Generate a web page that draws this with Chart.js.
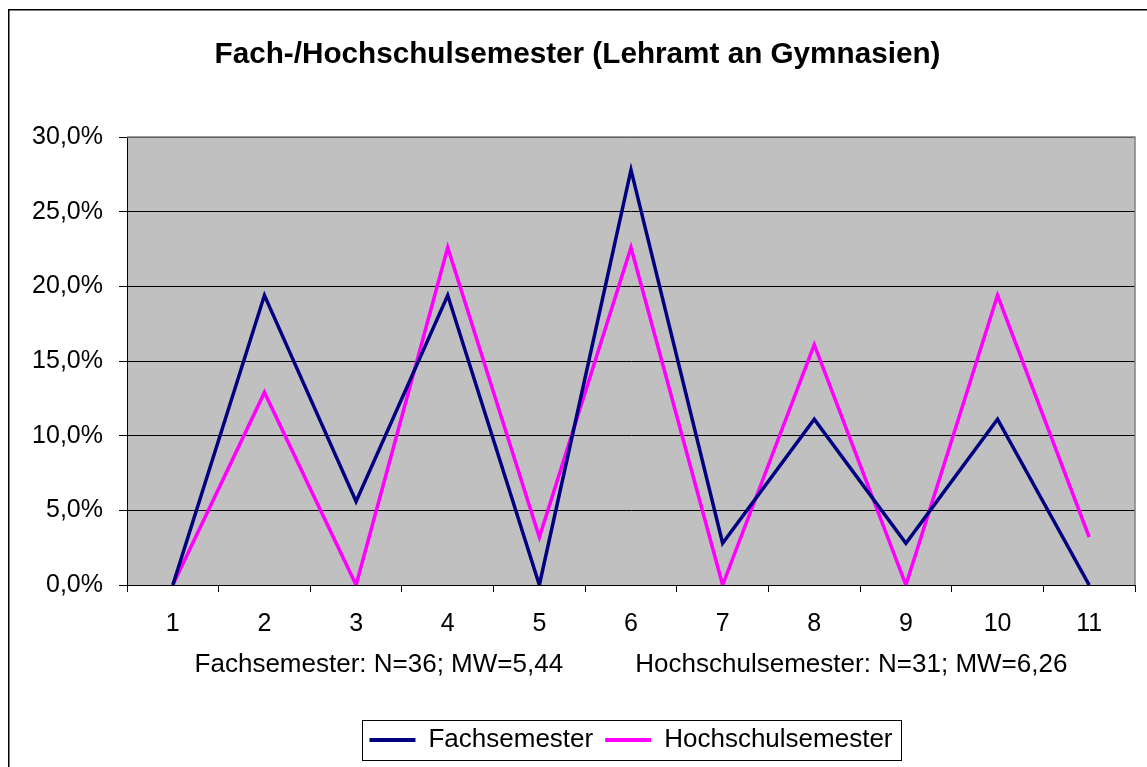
<!DOCTYPE html>
<html><head><meta charset="utf-8">
<script src="https://cdn.jsdelivr.net/npm/chart.js@4"></script>
<style>html,body{margin:0;padding:0;background:#fff}canvas{display:block}</style>
</head><body>
<canvas id="c" width="1147" height="767"></canvas>
<script>
const categories = ['1','2','3','4','5','6','7','8','9','10','11'];
const fachsemester = [0, 19.4, 5.6, 19.4, 0, 27.8, 2.8, 11.1, 2.8, 11.1, 0];
const hochschulsemester = [0, 12.9, 0, 22.6, 3.2, 22.6, 0, 16.1, 0, 19.4, 3.2];
const yTickLabels = ['0,0%','5,0%','10,0%','15,0%','20,0%','25,0%','30,0%'];
const seriesNames = ['Fachsemester','Hochschulsemester'];
const titleText = 'Fach-/Hochschulsemester (Lehramt an Gymnasien)';
const axisNote = 'Fachsemester: N=36; MW=5,44' + ' '.repeat(10) + 'Hochschulsemester: N=31; MW=6,26';

const FONT = "'Liberation Sans', Arial, sans-serif";

const frame = {
  id: 'frame',
  beforeDraw(chart) {
    const {ctx, chartArea: a} = chart;
    ctx.save();
    ctx.fillStyle = '#fff';
    ctx.fillRect(0, 0, chart.width, chart.height);
    ctx.fillStyle = '#C0C0C0';
    ctx.fillRect(a.left, a.top, a.right - a.left, a.bottom - a.top);
    ctx.strokeStyle = '#000';
    ctx.lineWidth = 1.5;
    ctx.strokeRect(8.75, 9.75, chart.width + 10, chart.height + 10);
    ctx.restore();
  },
  beforeDatasetsDraw(chart) {
    const {ctx, chartArea: a} = chart;
    ctx.save();
    ctx.strokeStyle = '#808080';
    ctx.lineWidth = 1.5;
    ctx.beginPath();
    ctx.moveTo(a.left, a.top);
    ctx.lineTo(a.right, a.top);
    ctx.lineTo(a.right, a.bottom);
    ctx.stroke();
    ctx.restore();
  },
  afterDraw(chart) {
    const hb = chart.legend && chart.legend.legendHitBoxes;
    if (!hb || !hb.length) return;
    const {ctx} = chart;
    const first = hb[0], last = hb[hb.length - 1];
    const cy = first.top + first.height / 2;
    const l = Math.round(first.left - 7) + 0.5;
    const r = Math.round(last.left + last.width + 8) + 0.5;
    const t = Math.round(cy - 20) + 0.5;
    ctx.save();
    ctx.strokeStyle = '#000';
    ctx.lineWidth = 1;
    ctx.strokeRect(l, t, r - l, 40);
    ctx.restore();
  }
};

new Chart(document.getElementById('c'), {
  type: 'line',
  data: {
    labels: categories,
    datasets: [
      {label: seriesNames[0], data: fachsemester, borderColor: '#000080', backgroundColor: '#000080',
       borderWidth: 3.5, borderJoinStyle: 'miter', pointRadius: 0, tension: 0},
      {label: seriesNames[1], data: hochschulsemester, borderColor: '#FF00FF', backgroundColor: '#FF00FF',
       borderWidth: 3.5, borderJoinStyle: 'miter', pointRadius: 0, tension: 0}
    ]
  },
  options: {
    responsive: false,
    animation: false,
    devicePixelRatio: 1,
    layout: {padding: {left: 20, right: 12, top: 0, bottom: 4}},
    plugins: {
      tooltip: {enabled: false},
      title: {
        display: true, text: titleText, color: '#000',
        font: {family: FONT, size: 29.7, weight: 'bold'},
        padding: {top: 37.2, bottom: 64.2}
      },
      legend: {
        position: 'bottom', fullSize: false,
        labels: {
          color: '#000', font: {family: FONT, size: 26},
          boxWidth: 46, boxHeight: 4, padding: 12,
          generateLabels(chart) {
            return Chart.defaults.plugins.legend.labels.generateLabels(chart).map(it => {
              it.lineWidth = 0; it.fillStyle = it.strokeStyle; return it;
            });
          }
        }
      }
    },
    scales: {
      x: {
        offset: true,
        grid: {offset: true, drawOnChartArea: false, drawTicks: true, tickLength: 7, color: '#000', lineWidth: 1},
        border: {color: '#000', width: 1},
        ticks: {color: '#000', font: {family: FONT, size: 25}, padding: 17, maxRotation: 0, autoSkip: false},
        title: {display: true, text: axisNote, color: '#000', font: {family: FONT, size: 26},
                padding: {top: 5, bottom: 34.4}},
        afterFit(s) { s.height = 130; }
      },
      y: {
        min: 0, max: 30,
        grid: {color: '#000', lineWidth: 1, tickLength: 8},
        border: {color: '#000', width: 1},
        ticks: {stepSize: 5, color: '#000', font: {family: FONT, size: 25}, padding: 16,
                callback: (v, i) => yTickLabels[i]},
        afterFit(s) { s.width = 107; }
      }
    }
  },
  plugins: [frame]
});
</script>
</body></html>
